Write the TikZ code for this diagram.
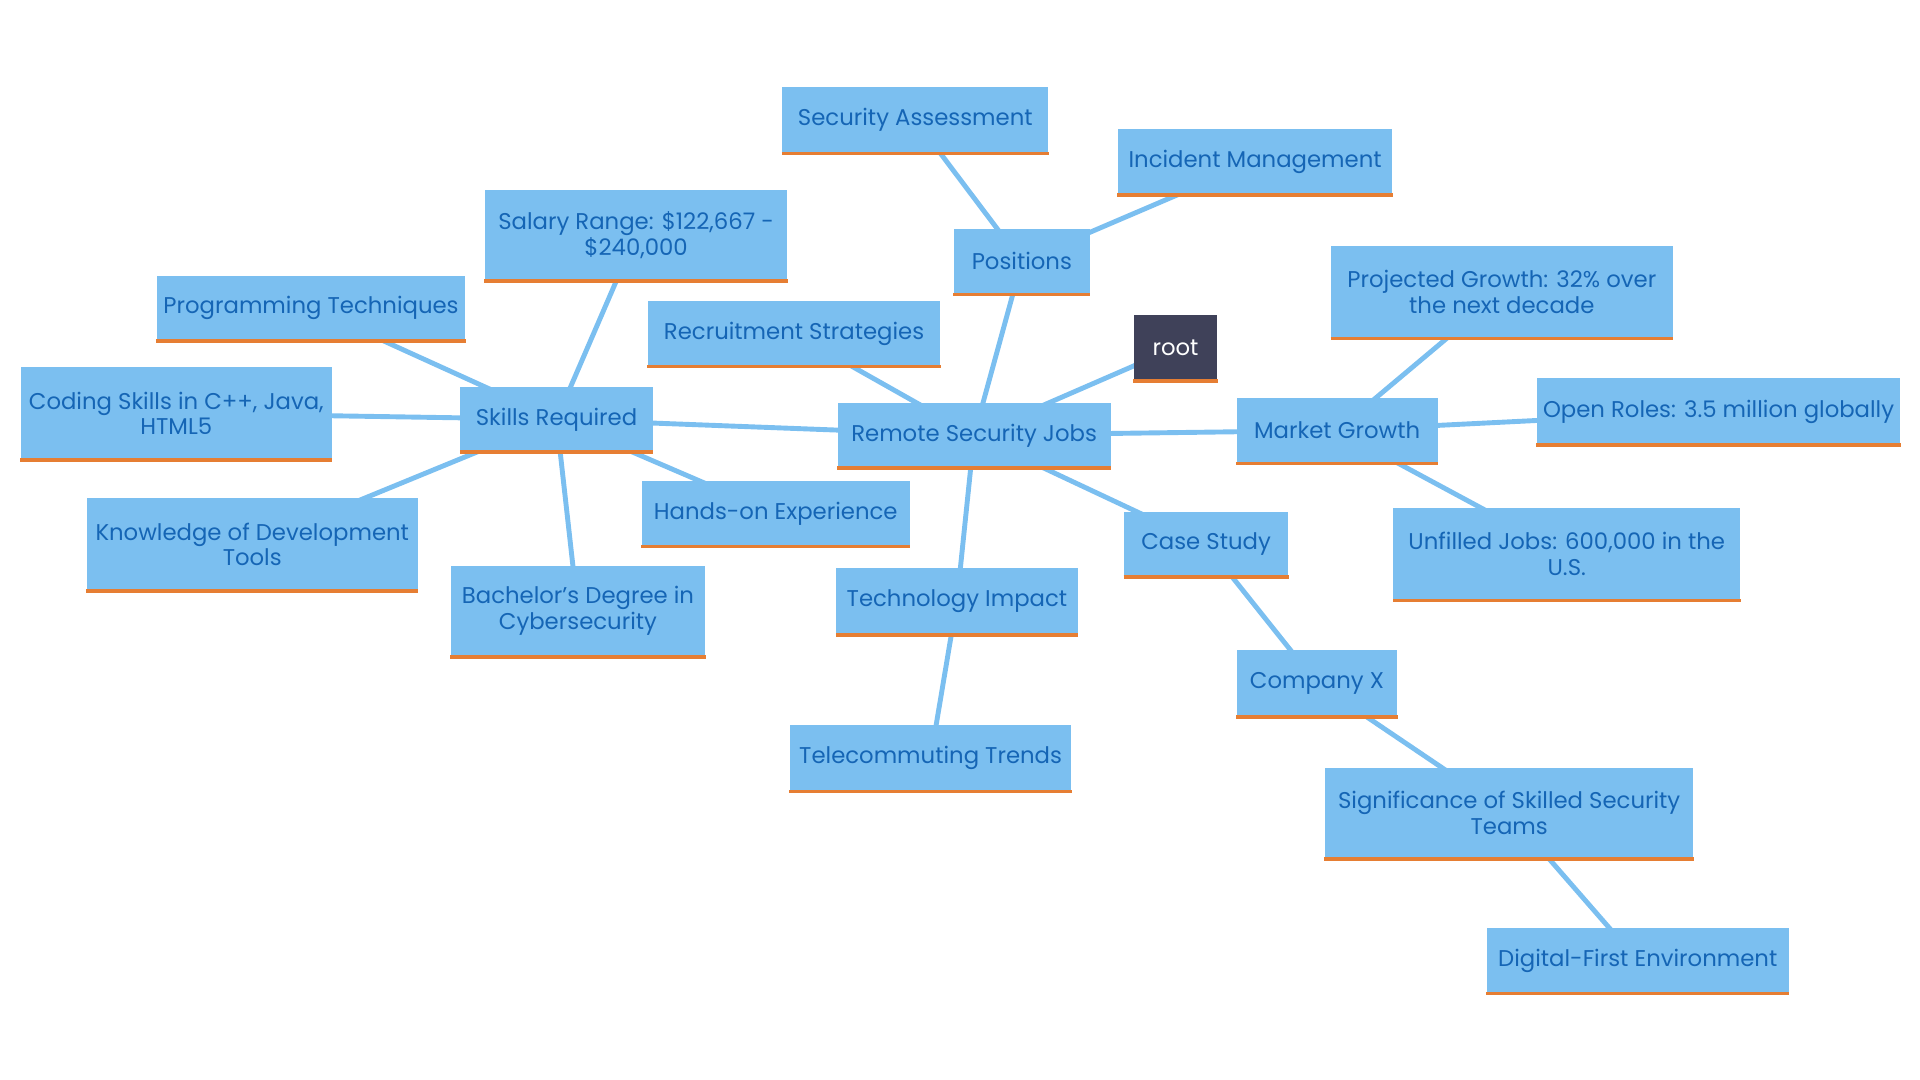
\documentclass[tikz,border=0pt]{standalone}
\usepackage{fontspec}
\setmainfont{Poppins}
\usetikzlibrary{backgrounds}
\definecolor{boxfill}{HTML}{7BBFF0}
\definecolor{boxtext}{HTML}{1565B5}
\definecolor{orangeline}{HTML}{E67E33}
\definecolor{rootfill}{HTML}{3F4159}
\definecolor{edgecol}{HTML}{7BBFF0}
\tikzset{
  box/.style={fill=boxfill,text=boxtext,align=center,inner sep=0pt,font=\fontsize{9.3}{10.5}\selectfont},
  rootbox/.style={fill=rootfill,text=white,align=center,inner sep=0pt,font=\fontsize{9.3}{10.5}\selectfont},
  edge/.style={draw=edgecol,line width=2pt},
  uline/.style={draw=orangeline,line width=1.5pt}
}
\newcommand{\bx}[7][box]{%
  \node[#1,minimum width={(#5-#3)*0.5pt},minimum height={(#6-#4)*0.5pt}] (#2) at ({(#3+#5)/2},{(#4+#6)/2}) {#7};
  \draw[uline] (#2.south west) -- (#2.south east);}
\begin{document}
\begin{tikzpicture}[x=0.5pt,y=-0.5pt]
\useasboundingbox (0,0) rectangle (1568,882);
\bx[rootbox]{root}{926}{257}{994}{311}{root}
\bx{rsj}{684}{329}{907}{382}{Remote Security Jobs}
\bx{pos}{779}{187}{890}{240}{Positions}
\bx{sa}{639}{71}{856}{125}{Security Assessment}
\bx{im}{913}{105}{1137}{159}{Incident Management}
\bx{rec}{529}{246}{768}{299}{Recruitment Strategies}
\bx{sk}{376}{316}{533}{369}{Skills Required}
\bx{sal}{396}{155}{643}{229}{Salary Range: \$122,667 -\\\$240,000}
\bx{prog}{128}{225}{380}{278}{Programming Techniques}
\bx{cod}{17}{300}{271}{375}{Coding Skills in C++, Java,\\HTML5}
\bx{kn}{71}{407}{341}{482}{Knowledge of Development\\Tools}
\bx{ba}{368}{462}{576}{536}{Bachelor's Degree in\\Cybersecurity}
\bx{ho}{524}{393}{743}{446}{Hands-on Experience}
\bx{tech}{683}{464}{880}{518}{Technology Impact}
\bx{tel}{645}{592}{875}{646}{Telecommuting Trends}
\bx{cs}{918}{418}{1052}{471}{Case Study}
\bx{cx}{1010}{531}{1141}{585}{Company X}
\bx{sig}{1082}{627}{1383}{701}{Significance of Skilled Security\\Teams}
\bx{dig}{1214}{758}{1461}{811}{Digital-First Environment}
\bx{mg}{1010}{325}{1174}{378}{Market Growth}
\bx{pg}{1087}{201}{1366}{276}{Projected Growth: 32\% over\\the next decade}
\bx{or}{1255}{309}{1552}{363}{Open Roles: 3.5 million globally}
\bx{uj}{1138}{415}{1421}{490}{Unfilled Jobs: 600,000 in the\\U.S.}
\begin{scope}[on background layer]
\foreach \a/\b in {root/rsj,rsj/pos,pos/sa,pos/im,rsj/rec,rsj/sk,sk/sal,sk/prog,sk/cod,sk/kn,sk/ba,sk/ho,rsj/tech,tech/tel,rsj/cs,cs/cx,cx/sig,sig/dig,rsj/mg,mg/pg,mg/or,mg/uj}
  \draw[edge] (\a.center) -- (\b.center);
\end{scope}
\end{tikzpicture}
\end{document}
